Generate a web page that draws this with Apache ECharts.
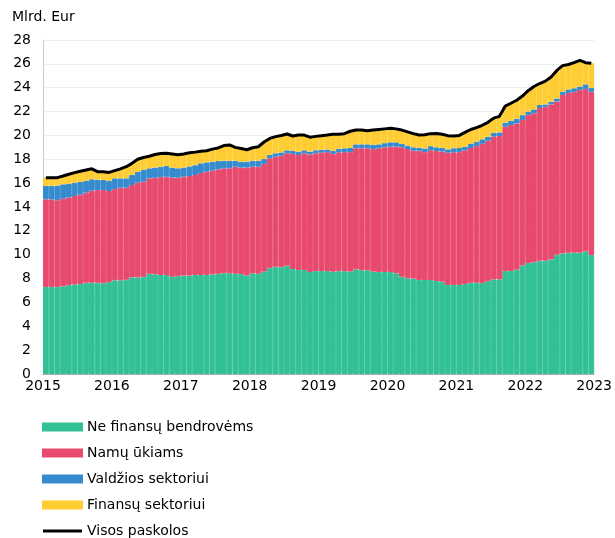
<!DOCTYPE html>
<html>
<head>
<meta charset="utf-8">
<script src="https://cdn.jsdelivr.net/npm/echarts@6/dist/echarts.min.js"></script>
<style>
  html, body { margin: 0; padding: 0; background: #fff; }
  #chart { width: 615px; height: 538px; }
</style>
</head>
<body>
<div id="chart"></div>
<script>
// mėnesiniai duomenys, 2015-01 .. 2022-12 (mlrd. Eur)
const years = [2015, 2016, 2017, 2018, 2019, 2020, 2021, 2022];
const months = ['01', '02', '03', '04', '05', '06', '07', '08', '09', '10', '11', '12'];
const yearTicks = [2015, 2023];

const neFinansu = [
  7.3, 7.3, 7.3, 7.35, 7.45, 7.5, 7.55, 7.65, 7.65, 7.65, 7.6, 7.7,
  7.85, 7.85, 7.9, 8.1, 8.1, 8.15, 8.4, 8.35, 8.3, 8.3, 8.15, 8.2,
  8.25, 8.25, 8.3, 8.3, 8.3, 8.35, 8.4, 8.45, 8.45, 8.4, 8.38, 8.25,
  8.44, 8.4, 8.58, 8.9, 9.0, 8.95, 9.08, 8.8, 8.72, 8.72, 8.55, 8.63,
  8.63, 8.63, 8.58, 8.62, 8.62, 8.58, 8.77, 8.7, 8.69, 8.58, 8.55, 8.55,
  8.55, 8.44, 8.16, 8.02, 8.0, 7.88, 7.88, 7.88, 7.8, 7.74, 7.46, 7.46,
  7.46, 7.55, 7.65, 7.65, 7.62, 7.78, 7.93, 7.93, 8.63, 8.63, 8.75, 9.1,
  9.3, 9.36, 9.5, 9.5, 9.6, 10.0, 10.1, 10.17, 10.17, 10.17, 10.28, 9.97
];
const namuUkiams = [
  7.34, 7.34, 7.26, 7.35, 7.35, 7.42, 7.48, 7.55, 7.72, 7.77, 7.82, 7.64,
  7.65, 7.77, 7.72, 7.74, 7.94, 7.97, 8.0, 8.1, 8.2, 8.24, 8.31, 8.26,
  8.29, 8.35, 8.38, 8.55, 8.66, 8.7, 8.75, 8.79, 8.79, 8.98, 8.92, 9.05,
  8.94, 8.98, 9.02, 9.18, 9.22, 9.35, 9.42, 9.65, 9.64, 9.78, 9.85, 9.87,
  9.92, 9.97, 9.87, 9.96, 9.98, 10.02, 10.15, 10.22, 10.23, 10.27, 10.37, 10.45,
  10.51, 10.62, 10.84, 10.84, 10.72, 10.84, 10.72, 10.87, 10.89, 10.91, 11.09, 11.12,
  11.14, 11.2, 11.3, 11.45, 11.68, 11.77, 11.97, 12.02, 12.1, 12.24, 12.25, 12.2,
  12.4, 12.49, 12.8, 12.9, 13.0, 12.85, 13.3, 13.38, 13.48, 13.63, 13.62, 13.69
];
const valdziosSekt = [
  1.14, 1.14, 1.24, 1.2, 1.15, 1.12, 1.07, 1.0, 0.95, 0.86, 0.84, 0.86,
  0.9, 0.78, 0.78, 0.84, 0.92, 0.98, 0.84, 0.85, 0.88, 0.9, 0.84, 0.78,
  0.76, 0.8, 0.82, 0.81, 0.78, 0.75, 0.7, 0.64, 0.64, 0.5, 0.5, 0.5,
  0.5, 0.5, 0.42, 0.3, 0.28, 0.27, 0.25, 0.25, 0.27, 0.25, 0.25, 0.25,
  0.25, 0.22, 0.25, 0.3, 0.32, 0.35, 0.33, 0.33, 0.33, 0.35, 0.33, 0.35,
  0.36, 0.36, 0.3, 0.28, 0.28, 0.25, 0.3, 0.35, 0.31, 0.3, 0.28, 0.34,
  0.35, 0.31, 0.33, 0.37, 0.37, 0.35, 0.33, 0.3, 0.34, 0.36, 0.4, 0.4,
  0.3, 0.33, 0.25, 0.2, 0.23, 0.25, 0.26, 0.3, 0.3, 0.3, 0.38, 0.34
];
const finansuSekt = [
  0.68, 0.68, 0.66, 0.7, 0.8, 0.84, 0.9, 0.9, 0.88, 0.68, 0.7, 0.7,
  0.65, 0.8, 0.98, 0.98, 1.04, 1.05, 1.01, 1.1, 1.1, 1.06, 1.15, 1.14,
  1.15, 1.15, 1.1, 1.02, 0.98, 1.05, 1.1, 1.27, 1.32, 1.12, 1.1, 1.0,
  1.09, 1.17, 1.43, 1.37, 1.4, 1.43, 1.37, 1.25, 1.4, 1.28, 1.2, 1.17,
  1.18, 1.21, 1.4, 1.22, 1.23, 1.4, 1.2, 1.2, 1.15, 1.25, 1.25, 1.2,
  1.18, 1.13, 1.15, 1.16, 1.15, 1.06, 1.15, 1.05, 1.17, 1.15, 1.15, 1.03,
  1.05, 1.19, 1.22, 1.18, 1.18, 1.2, 1.22, 1.35, 1.38, 1.47, 1.55, 1.6,
  1.75, 1.92, 1.8, 1.95, 2.07, 2.35, 2.19, 2.1, 2.15, 2.2, 1.82, 2.05
];
const visosPaskolos = [
  16.46, 16.46, 16.46, 16.6, 16.75, 16.88, 17.0, 17.1, 17.2, 16.96, 16.96, 16.9,
  17.05, 17.2, 17.38, 17.66, 18.0, 18.15, 18.25, 18.4, 18.48, 18.5, 18.45, 18.38,
  18.45, 18.55, 18.6, 18.68, 18.72, 18.85, 18.95, 19.15, 19.2, 19.0, 18.9, 18.8,
  18.97, 19.05, 19.45, 19.75, 19.9, 20.0, 20.12, 19.95, 20.03, 20.03, 19.85, 19.92,
  19.98, 20.03, 20.1, 20.1, 20.15, 20.35, 20.45, 20.45, 20.4, 20.45, 20.5, 20.55,
  20.6, 20.55, 20.45, 20.3, 20.15, 20.03, 20.05, 20.15, 20.17, 20.1, 19.98, 19.95,
  20.0, 20.25, 20.5, 20.65, 20.85, 21.1, 21.45, 21.6, 22.45, 22.7, 22.95, 23.3,
  23.75, 24.1, 24.35, 24.55, 24.9, 25.45, 25.85, 25.95, 26.1, 26.3, 26.1, 26.05
];

const categories = [];
years.forEach(y => months.forEach(m => categories.push(y + '-' + m)));

const font = 'DejaVu Sans, Verdana, sans-serif';
const colors = ['#33c096', '#e84a6e', '#368bce', '#ffcc33'];
// plona juoda linija legendai (be taško)
const lineIcon = 'path://M0,0h39v0.01h-39z M0,2h39v3h-39z M0,6.99h39v0.01h-39z';

function barSeries(name, data, color) {
  return {
    name: name,
    type: 'bar',
    stack: 'viso',
    xAxisIndex: 0,
    data: data,
    barCategoryGap: '0%',
    itemStyle: { color: color, borderColor: color, borderWidth: 1 },
    emphasis: { disabled: true }
  };
}

const chart = echarts.init(document.getElementById('chart'));
chart.setOption({
  animation: false,
  textStyle: { fontFamily: font },
  title: {
    text: 'Mlrd. Eur',
    left: 7, top: 5,
    textStyle: { fontFamily: font, fontSize: 14, fontWeight: 'normal', color: '#000' }
  },
  grid: { left: 43, right: 14, top: 40, bottom: 164 },
  legend: {
    orient: 'vertical',
    left: 42, top: 420,
    padding: 0,
    itemWidth: 39, itemHeight: 7, itemGap: 12,
    textStyle: { fontFamily: font, fontSize: 14, color: '#000' },
    data: [
      { name: 'Ne finansų bendrovėms', icon: 'rect' },
      { name: 'Namų ūkiams', icon: 'rect' },
      { name: 'Valdžios sektoriui', icon: 'rect' },
      { name: 'Finansų sektoriui', icon: 'rect' },
      { name: 'Visos paskolos', icon: lineIcon, itemStyle: { color: '#000' } }
    ]
  },
  xAxis: [
    { type: 'category', data: categories, show: false },
    {
      type: 'value', min: yearTicks[0], max: yearTicks[1], interval: 1,
      position: 'bottom',
      axisLine: { show: true, onZero: false, lineStyle: { color: '#aaa' } },
      axisTick: { show: false },
      splitLine: { show: false },
      axisLabel: { margin: 5, color: '#000', fontSize: 14, fontFamily: font, formatter: v => String(v) }
    }
  ],
  yAxis: {
    type: 'value', min: 0, max: 28, interval: 2,
    axisLine: { show: true, lineStyle: { color: '#ccc' } },
    axisTick: { show: false },
    axisLabel: { margin: 12, color: '#000', fontSize: 14, fontFamily: font },
    splitLine: { lineStyle: { color: '#eee' } }
  },
  series: [
    barSeries('Ne finansų bendrovėms', neFinansu, colors[0]),
    barSeries('Namų ūkiams', namuUkiams, colors[1]),
    barSeries('Valdžios sektoriui', valdziosSekt, colors[2]),
    barSeries('Finansų sektoriui', finansuSekt, colors[3]),
    {
      name: 'Visos paskolos',
      type: 'line',
      xAxisIndex: 0,
      data: visosPaskolos,
      symbol: 'none',
      lineStyle: { color: '#000', width: 3 },
      itemStyle: { color: '#000' },
      z: 5
    }
  ]
});
</script>
</body>
</html>
